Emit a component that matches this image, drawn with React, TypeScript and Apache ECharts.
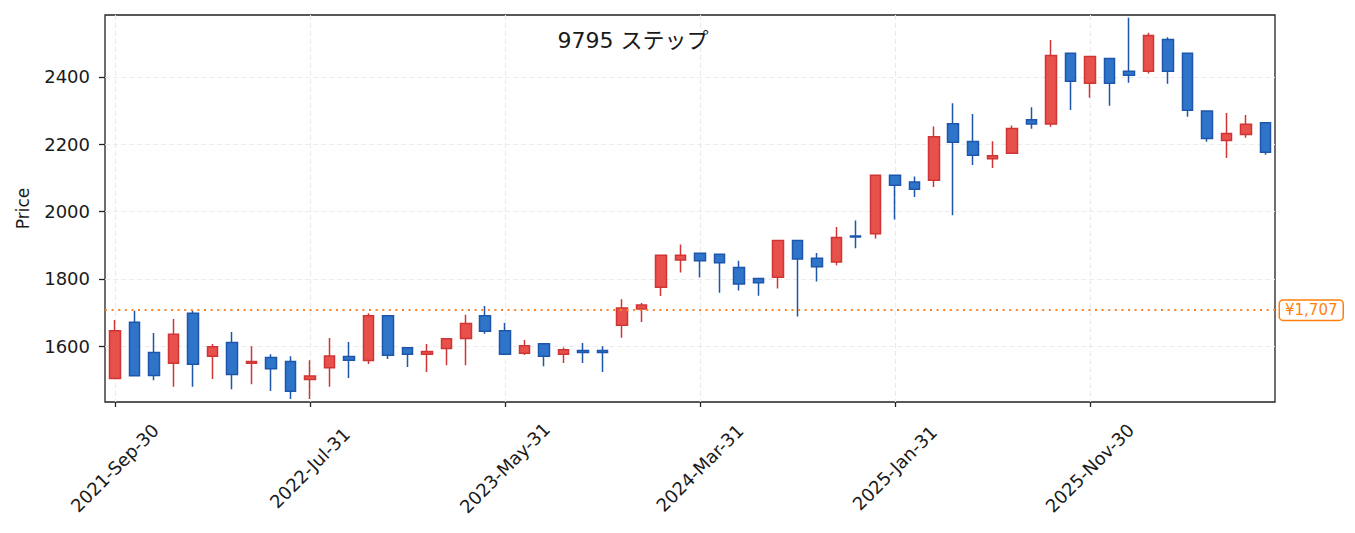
import React, { useEffect, useRef } from 'react';
import * as echarts from 'echarts';

// month-end dates, one candle per month
const dates = [
  '2021-Sep-30', '2021-Oct-31', '2021-Nov-30', '2021-Dec-31',
  '2022-Jan-31', '2022-Feb-28', '2022-Mar-31', '2022-Apr-30', '2022-May-31', '2022-Jun-30',
  '2022-Jul-31', '2022-Aug-31', '2022-Sep-30', '2022-Oct-31', '2022-Nov-30', '2022-Dec-31',
  '2023-Jan-31', '2023-Feb-28', '2023-Mar-31', '2023-Apr-30', '2023-May-31', '2023-Jun-30',
  '2023-Jul-31', '2023-Aug-31', '2023-Sep-30', '2023-Oct-31', '2023-Nov-30', '2023-Dec-31',
  '2024-Jan-31', '2024-Feb-29', '2024-Mar-31', '2024-Apr-30', '2024-May-31', '2024-Jun-30',
  '2024-Jul-31', '2024-Aug-31', '2024-Sep-30', '2024-Oct-31', '2024-Nov-30', '2024-Dec-31',
  '2025-Jan-31', '2025-Feb-28', '2025-Mar-31', '2025-Apr-30', '2025-May-31', '2025-Jun-30',
  '2025-Jul-31', '2025-Aug-31', '2025-Sep-30', '2025-Oct-31', '2025-Nov-30', '2025-Dec-31',
  '2026-Jan-31', '2026-Feb-28', '2026-Mar-31', '2026-Apr-30', '2026-May-31', '2026-Jun-30',
  '2026-Jul-31', '2026-Aug-31',
];

const opens = [
  1504, 1671, 1581, 1549, 1698, 1570, 1611, 1549, 1566, 1554,
  1501, 1536, 1569, 1557, 1690, 1595, 1576, 1593, 1623, 1690,
  1646, 1579, 1607, 1576, 1587, 1587, 1662, 1710, 1775, 1856,
  1876, 1873, 1834, 1801, 1805, 1914, 1861, 1850, 1927, 1934,
  2108, 2088, 2093, 2261, 2208, 2157, 2173, 2273, 2260, 2470,
  2381, 2455, 2417, 2417, 2511, 2470, 2299, 2211, 2229, 2264,
];
const closes = [
  1646, 1512, 1513, 1635, 1546, 1598, 1516, 1554, 1533, 1466,
  1511, 1571, 1558, 1690, 1573, 1576, 1584, 1622, 1667, 1644,
  1576, 1601, 1570, 1589, 1581, 1581, 1713, 1722, 1870, 1870,
  1854, 1848, 1785, 1788, 1914, 1859, 1836, 1923, 1924, 2108,
  2078, 2066, 2222, 2206, 2167, 2166, 2247, 2260, 2464, 2387,
  2461, 2381, 2405, 2523, 2417, 2301, 2217, 2232, 2259, 2176,
];
const lows = [
  1503, 1512, 1499, 1479, 1479, 1502, 1472, 1487, 1467, 1443,
  1443, 1479, 1505, 1547, 1562, 1538, 1523, 1543, 1543, 1637,
  1576, 1574, 1540, 1550, 1550, 1523, 1625, 1672, 1749, 1819,
  1804, 1759, 1765, 1750, 1771, 1688, 1792, 1840, 1891, 1920,
  1976, 2043, 2073, 1989, 2138, 2129, 2173, 2246, 2252, 2302,
  2338, 2314, 2383, 2410, 2380, 2282, 2207, 2159, 2219, 2169,
];
const highs = [
  1678, 1705, 1639, 1681, 1705, 1606, 1642, 1600, 1576, 1570,
  1558, 1624, 1612, 1698, 1690, 1595, 1606, 1622, 1693, 1719,
  1669, 1618, 1607, 1596, 1609, 1600, 1739, 1728, 1870, 1902,
  1876, 1873, 1854, 1801, 1914, 1914, 1877, 1954, 1973, 2108,
  2108, 2104, 2253, 2322, 2290, 2209, 2256, 2310, 2510, 2470,
  2461, 2455, 2576, 2531, 2518, 2470, 2299, 2293, 2287, 2264,
];

const priceTicks = [1600, 1800, 2000, 2200, 2400];
const lastPrice = 1707;
const chartTitle = '9795 ステップ';

const FONT = '"DejaVu Sans", "Noto Sans CJK JP", sans-serif';
const INK = '#1a1a1a';
const GRID_LINE = { color: '#ebebeb', type: [5, 3], width: 1.2 };

export default function App() {
  const chartRef = useRef<HTMLDivElement>(null);

  useEffect(() => {
    const chart = echarts.init(chartRef.current, null, { renderer: 'svg' });

    const candles = dates.map((_, i) => [opens[i], closes[i], lows[i], highs[i]]);

    chart.setOption({
      animation: false,
      textStyle: { fontFamily: FONT },
      grid: {
        left: 105, right: 80, top: 15, bottom: 131,
        show: true, borderColor: '#222', borderWidth: 1.3, backgroundColor: '#fff',
      },
      graphic: [{
        type: 'text', x: 633, y: 40, z: 10,
        style: {
          text: chartTitle, fill: INK, font: `22px ${FONT}`,
          align: 'center', verticalAlign: 'middle',
        },
      }],
      xAxis: {
        type: 'category',
        data: dates,
        boundaryGap: true,
        axisLine: { show: false },
        axisTick: {
          show: true, interval: 9, alignWithLabel: true, length: 5,
          lineStyle: { color: '#222', width: 1.3 },
        },
        axisLabel: {
          interval: 9, rotate: 45, align: 'center', verticalAlign: 'middle',
          margin: 66, fontSize: 18, color: INK,
        },
        splitLine: { show: true, interval: 9, alignWithLabel: true, lineStyle: GRID_LINE },
      },
      yAxis: {
        type: 'value',
        min: 1434,
        max: 2584,
        name: 'Price',
        nameLocation: 'middle',
        nameGap: 74,
        nameRotate: 90,
        nameTextStyle: { fontSize: 17, color: INK },
        axisLine: { show: false },
        axisTick: {
          show: true, length: 6, customValues: priceTicks,
          lineStyle: { color: '#222', width: 1.3 },
        },
        axisLabel: {
          customValues: priceTicks, fontSize: 18, color: INK, margin: 15,
          formatter: (v: number) => String(v),
        },
        splitLine: { show: true, lineStyle: GRID_LINE },
      },
      series: [{
        type: 'candlestick',
        data: candles,
        barWidth: 11,
        itemStyle: {
          color: '#e8514b',
          color0: '#2e74c9',
          borderColor: '#cf3535',
          borderColor0: '#1d56ab',
          borderWidth: 1.5,
        },
        markLine: {
          symbol: 'none',
          silent: true,
          data: [{ yAxis: lastPrice }],
          lineStyle: { color: '#ff8427', type: [2, 4.6], width: 2 },
          label: {
            position: 'end',
            formatter: '¥' + lastPrice.toLocaleString('en-US'),
            color: '#ff7f0e',
            fontSize: 15,
            backgroundColor: '#fff',
            borderColor: '#ff7f0e',
            borderWidth: 1.5,
            borderRadius: 3,
            padding: [2, 5],
            distance: 5,
          },
        },
      }],
    });

    return () => {
      chart.dispose();
    };
  }, []);

  return (
    <div
      ref={chartRef}
      style={{ position: 'absolute', left: 0, top: 0, width: '1355px', height: '533px' }}
    />
  );
}
